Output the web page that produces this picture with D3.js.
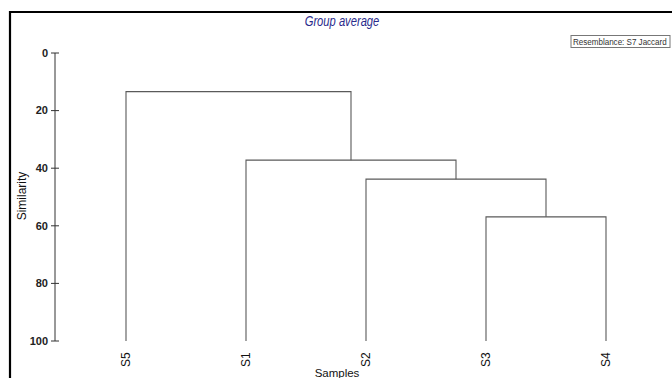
<!DOCTYPE html>
<html><head><meta charset="utf-8">
<script src="https://cdn.jsdelivr.net/npm/d3@7"></script>
<style>body{margin:0;background:#fff}svg{display:block}text{font-family:"Liberation Sans",Arial,sans-serif}</style>
</head><body><svg id="c" width="672" height="378"></svg>
<script>
const leaves = ["S5","S1","S2","S3","S4"];
// merges: [left child, right child, similarity]
const merges = [
  ["S3","S4",56.9],
  ["S2","S3+S4",43.8],
  ["S1","S2+S3+S4",37.2],
  ["S5","S1+S2+S3+S4",13.4]
];
const yTicks = [0,20,40,60,80,100];
const title = "Group average";
const legendText = "Resemblance: S7 Jaccard";

const svg = d3.select("#c");
svg.append("rect").attr("width",672).attr("height",378).attr("fill","#fff");
// frame
svg.append("path").attr("d","M10,380 L10,12 L674,12").attr("fill","none").attr("stroke","#000").attr("stroke-width",2.2);

const x = d3.scalePoint().domain(leaves).range([126,606]);
const y = d3.scaleLinear().domain([0,100]).range([53,341]);

// build tree
const nodes = {};
leaves.forEach(l => nodes[l] = {name:l, x:x(l), sim:100});
merges.forEach(([a,b,s]) => {
  const na = nodes[a], nb = nodes[b];
  const n = {name:a+"+"+b, x:(na.x+nb.x)/2, sim:s, children:[na,nb]};
  nodes[n.name] = n;
});
const last = merges[merges.length-1];
const root = d3.hierarchy(nodes[last[0]+"+"+last[1]]);

const g = svg.append("g");
root.descendants().forEach(d => {
  if (!d.children) return;
  const [a,b] = d.children;
  g.append("path")
    .attr("d", `M${a.data.x},${y(a.data.sim)}V${y(d.data.sim)}H${b.data.x}V${y(b.data.sim)}`)
    .attr("fill","none").attr("stroke","#5a5a5a").attr("stroke-width",1.1);
});

// y axis
const ax = svg.append("g").attr("transform","translate(55,0)");
ax.append("line").attr("y1",y(0)).attr("y2",y(100)).attr("stroke","#333");
yTicks.forEach(t => {
  ax.append("line").attr("x1",-4).attr("x2",4).attr("y1",y(t)).attr("y2",y(t)).attr("stroke","#333");
  ax.append("text").attr("x",-7).attr("y",y(t)).attr("dy","0.35em").attr("text-anchor","end")
    .attr("font-size",11).attr("font-weight","bold").attr("fill","#222").text(t);
});
svg.append("text").attr("transform","translate(26,196) rotate(-90)").attr("text-anchor","middle")
  .attr("font-size",12).attr("fill","#111").text("Similarity");

// leaf labels
leaves.forEach(l => {
  svg.append("text").attr("transform",`translate(${x(l)},367) rotate(-90)`).attr("dy","0.35em")
    .attr("font-size",12).attr("fill","#111").text(l);
});
svg.append("text").attr("x",337).attr("y",377).attr("text-anchor","middle").attr("font-size",11.5).attr("fill","#111").text("Samples");

// title
svg.append("text").attr("transform","translate(342,26) scale(0.8,1)").attr("text-anchor","middle").attr("font-size",14)
  .attr("font-style","italic").attr("fill","#2b2b8c").text(title);

// legend box
const lg = svg.append("g");
lg.append("rect").attr("x",571).attr("y",35.5).attr("width",99).attr("height",12)
  .attr("fill","#fff").attr("stroke","#777");
const lt = lg.append("text").attr("font-size",9).attr("fill","#333").text(legendText);
const w = lt.node().getComputedTextLength();
lt.attr("transform",`translate(573,44.5) scale(${94/w},1)`);
</script></body></html>
